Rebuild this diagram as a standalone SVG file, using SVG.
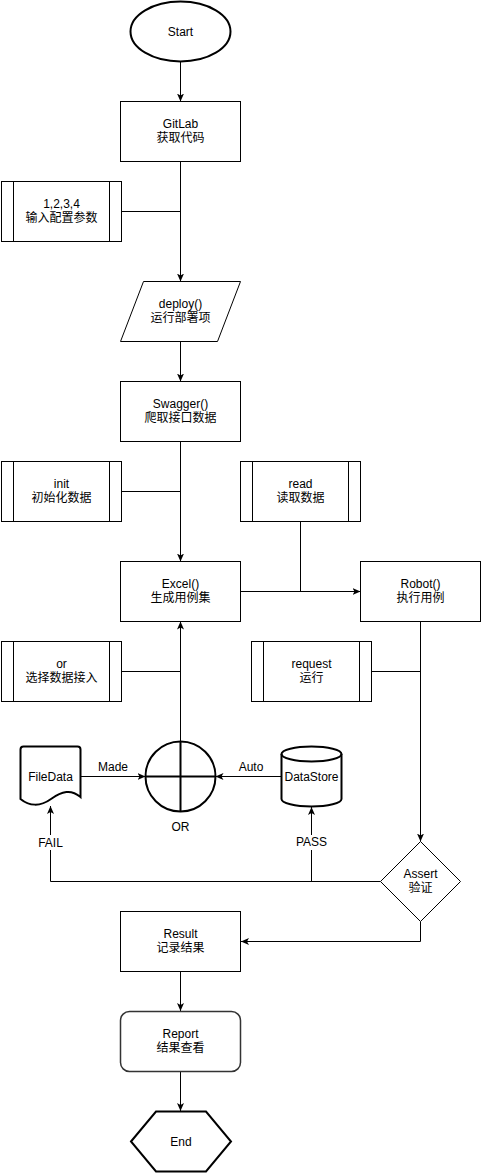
<svg xmlns="http://www.w3.org/2000/svg" width="481" height="1173" viewBox="0 0 481 1173">
<style>
text{font-family:"Liberation Sans","Noto Sans CJK SC",sans-serif;font-size:12px;fill:#000;text-anchor:middle}
.s{fill:#fff;stroke:#000;stroke-width:1}
.t{fill:#fff;stroke:#000;stroke-width:2}
.c{fill:none;stroke:#000;stroke-width:1}
.lbl{fill:#fff;stroke:none}
</style>
<defs>
<marker id="arr" viewBox="0 0 8 7" refX="8" refY="3.5" markerWidth="8" markerHeight="7" orient="auto" markerUnits="userSpaceOnUse">
<path d="M0,0 L8,3.5 L0,7 L2,3.5 Z" fill="#000"/>
</marker>
</defs>
<rect width="481" height="1173" fill="#fff"/>
<g id="connectors">
<path class="c" d="M180.5,61.5 V101.5" marker-end="url(#arr)"/>
<path class="c" d="M180.5,161.5 V281.5" marker-end="url(#arr)"/>
<path class="c" d="M121.5,211.5 H180.5"/>
<path class="c" d="M180.5,341.5 V381.5" marker-end="url(#arr)"/>
<path class="c" d="M180.5,441.5 V561.5" marker-end="url(#arr)"/>
<path class="c" d="M121.5,491.5 H180.5"/>
<path class="c" d="M240.5,591.5 H360.5" marker-end="url(#arr)"/>
<path class="c" d="M300.5,521.5 V591.5"/>
<path class="c" d="M180.5,741.5 V621.5" marker-end="url(#arr)"/>
<path class="c" d="M121.5,671.5 H180.5"/>
<path class="c" d="M420.5,621.5 V841.5" marker-end="url(#arr)"/>
<path class="c" d="M371.5,671.5 H420.5"/>
<path class="c" d="M80.5,776.5 H145.5" marker-end="url(#arr)"/>
<path class="c" d="M281.5,776.5 H215.5" marker-end="url(#arr)"/>
<path class="c" d="M380.5,881.5 H50.5 V806" marker-end="url(#arr)"/>
<path class="c" d="M311.5,881.5 V807" marker-end="url(#arr)"/>
<path class="c" d="M420.5,921.5 V941.5 H241" marker-end="url(#arr)"/>
<path class="c" d="M180.5,971.5 V1011" marker-end="url(#arr)"/>
<path class="c" d="M180.5,1071 V1111" marker-end="url(#arr)"/>
<text x="113" y="771">Made</text>
<text x="251" y="771">Auto</text>
<rect class="lbl" x="36" y="835" width="30" height="15"/>
<text x="50.5" y="847">FAIL</text>
<rect class="lbl" x="295" y="835" width="33" height="15"/>
<text x="311.5" y="846">PASS</text>
</g>
<g id="start">
<ellipse class="t" cx="180.5" cy="31.5" rx="50" ry="30"/>
<text x="180.5" y="35.5">Start</text>
</g>
<g id="gitlab">
<rect class="s" x="120.5" y="101.5" width="120" height="60"/>
<text x="180.5" y="128">GitLab</text>
<text x="180.5" y="142">获取代码</text>
</g>
<g id="input">
<rect class="s" x="1.5" y="181.5" width="120" height="60"/>
<path class="c" d="M13.5,181.5 V241.5 M109.5,181.5 V241.5"/>
<text x="61.5" y="208">1,2,3,4</text>
<text x="61.5" y="222">输入配置参数</text>
</g>
<g id="deploy">
<polygon class="s" points="143.5,281.5 240.5,281.5 217.5,341.5 120.5,341.5"/>
<text x="180.5" y="308">deploy()</text>
<text x="180.5" y="322">运行部署项</text>
</g>
<g id="swagger">
<rect class="s" x="120.5" y="381.5" width="120" height="60"/>
<text x="180.5" y="408">Swagger()</text>
<text x="180.5" y="422">爬取接口数据</text>
</g>
<g id="init">
<rect class="s" x="1.5" y="461.5" width="120" height="60"/>
<path class="c" d="M13.5,461.5 V521.5 M109.5,461.5 V521.5"/>
<text x="61.5" y="488">init</text>
<text x="61.5" y="502">初始化数据</text>
</g>
<g id="read">
<rect class="s" x="240.5" y="461.5" width="120" height="60"/>
<path class="c" d="M252.5,461.5 V521.5 M348.5,461.5 V521.5"/>
<text x="300.5" y="488">read</text>
<text x="300.5" y="502">读取数据</text>
</g>
<g id="excel">
<rect class="s" x="120.5" y="561.5" width="120" height="60"/>
<text x="180.5" y="588">Excel()</text>
<text x="180.5" y="602">生成用例集</text>
</g>
<g id="robot">
<rect class="s" x="360.5" y="561.5" width="120" height="60"/>
<text x="420.5" y="588">Robot()</text>
<text x="420.5" y="602">执行用例</text>
</g>
<g id="orbox">
<rect class="s" x="1.5" y="641.5" width="120" height="60"/>
<path class="c" d="M13.5,641.5 V701.5 M109.5,641.5 V701.5"/>
<text x="61.5" y="668">or</text>
<text x="61.5" y="682">选择数据接入</text>
</g>
<g id="request">
<rect class="s" x="251.5" y="641.5" width="120" height="60"/>
<path class="c" d="M263.5,641.5 V701.5 M359.5,641.5 V701.5"/>
<text x="311.5" y="668">request</text>
<text x="311.5" y="682">运行</text>
</g>
<g id="or">
<circle class="t" cx="180.5" cy="776.5" r="35"/>
<path d="M145.5,776.5 H215.5 M180.5,741.5 V811.5" stroke="#000" stroke-width="2" fill="none"/>
<text x="180.5" y="831">OR</text>
</g>
<g id="filedata">
<path class="t" d="M24,746.5 H77.5 Q80.5,746.5 80.5,749.5 V797 C71,789 62,791 51,799 C40,807 29,806 20.5,799 V749.5 Q20.5,746.5 23.5,746.5 Z"/>
<text x="50.5" y="780.5">FileData</text>
</g>
<g id="datastore">
<path class="t" d="M281.5,754 A30,7.5 0 0 1 341.5,754 V799 A30,7.5 0 0 1 281.5,799 Z"/>
<path class="c" stroke-width="2" d="M281.5,754 A30,7.5 0 0 0 341.5,754" style="stroke-width:2"/>
<text x="311.5" y="780.5">DataStore</text>
</g>
<g id="assert">
<polygon class="s" points="420.5,841.5 460.5,881.5 420.5,921.5 380.5,881.5"/>
<text x="420.5" y="878">Assert</text>
<text x="420.5" y="892">验证</text>
</g>
<g id="result">
<rect class="s" x="120.5" y="911.5" width="120" height="60"/>
<text x="180.5" y="938">Result</text>
<text x="180.5" y="952">记录结果</text>
</g>
<g id="report">
<rect class="s" x="120.5" y="1011.5" width="120" height="60" rx="9" ry="9" style="stroke:#333;stroke-width:1.5"/>
<text x="180.5" y="1038">Report</text>
<text x="180.5" y="1052">结果查看</text>
</g>
<g id="end">
<polygon class="t" points="131,1141.5 156,1111.5 206,1111.5 231,1141.5 206,1171.5 156,1171.5"/>
<text x="181" y="1145.5">End</text>
</g>
</svg>
